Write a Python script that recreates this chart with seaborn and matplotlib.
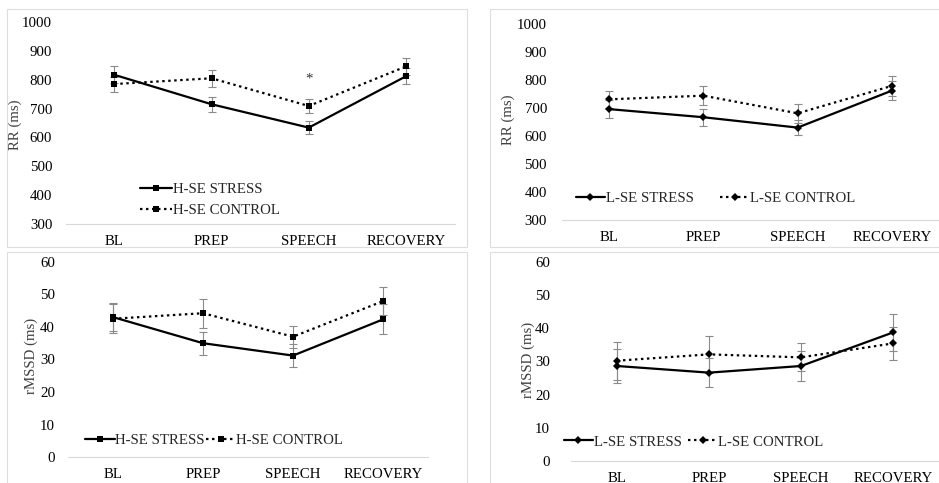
import matplotlib
matplotlib.use("Agg")
import matplotlib.pyplot as plt
from matplotlib.patches import Rectangle
import numpy as np
import pandas as pd
import seaborn as sns

# ---- data -------------------------------------------------------------
stages = ["BL", "PREP", "SPEECH", "RECOVERY"]

rr_hse_stress = [817, 715, 634, 812]
rr_hse_stress_se = [29, 26, 23, 28]
rr_hse_control = [785, 805, 709, 846]
rr_hse_control_se = [26, 29, 23, 28]

rr_lse_stress = [696, 667, 630, 762]
rr_lse_stress_se = [33, 31, 26, 33]
rr_lse_control = [731, 744, 681, 779]
rr_lse_control_se = [31, 35, 33, 35]

rmssd_hse_stress = [43.0, 35.0, 31.2, 42.3]
rmssd_hse_stress_se = [4.3, 3.5, 3.5, 4.6]
rmssd_hse_control = [42.5, 44.2, 37.0, 47.9]
rmssd_hse_control_se = [4.5, 4.4, 3.4, 4.3]

rmssd_lse_stress = [28.6, 26.6, 28.6, 38.7]
rmssd_lse_stress_se = [5.0, 4.4, 4.4, 5.6]
rmssd_lse_control = [30.2, 32.1, 31.2, 35.4]
rmssd_lse_control_se = [5.7, 5.5, 4.2, 5.0]

sig_stage = "SPEECH"
sig_value = 801

# ---- style ------------------------------------------------------------
sns.set_theme(style="white")
plt.rcParams["font.family"] = ["Liberation Serif", "DejaVu Serif"]
FS = 10.7
PX = 0.72  # points per pixel at 100 dpi

W, H = 939, 483
fig = plt.figure(figsize=(W / 100, H / 100), dpi=100)


def box(l, t, r, b):
    return [l / W, 1 - b / H, (r - l) / W, (b - t) / H]


def fig_xy(x, y):
    return (x / W, 1 - y / H)


# panel frames
for (l, t, r, b) in [(7, 9, 467, 247), (490, 9, 945, 247),
                     (7, 252, 467, 490), (490, 252, 945, 490)]:
    fig.add_artist(Rectangle(fig_xy(l, b), (r - l) / W, (b - t) / H,
                             transform=fig.transFigure, fill=False,
                             ec="#dedede", lw=0.8))


def panel(rect, names, series, errs, marker, msize, ylim, yticks, ylabel,
          ylab_xy, ypad_px, leg):
    ax = fig.add_axes(box(*rect))
    df = pd.concat([pd.DataFrame({"stage": stages, "value": v, "group": n})
                    for n, v in zip(names, series)])
    sns.pointplot(data=df, x="stage", y="value", hue="group", order=stages,
                  hue_order=names, palette=["black", "black"],
                  markers=[marker, marker], linestyles=["-", ":"],
                  errorbar=None, legend=False, ax=ax,
                  markersize=msize, linewidth=1.6)
    lines = ax.lines[:2]
    lines[1].set_dashes([1.1, 1.6])
    for ln in lines:
        ln.set_zorder(3)
        ln.set_markeredgewidth(0)
    xpos = np.arange(len(stages))
    for v, e in zip(series, errs):
        ax.errorbar(xpos, v, yerr=e, fmt="none", ecolor="#8a8a8a",
                    elinewidth=0.8, capsize=2.6, capthick=0.8, zorder=2)
    ax.set_xlim(-0.5, len(stages) - 0.5)
    ax.set_ylim(*ylim)
    ax.set_yticks(yticks)
    ax.set_xlabel("")
    for s in ["left", "top", "right"]:
        ax.spines[s].set_visible(False)
    ax.spines["bottom"].set_color("#d9d9d9")
    ax.spines["bottom"].set_linewidth(0.8)
    ax.tick_params(axis="both", length=0, labelsize=FS, colors="black")
    ax.tick_params(axis="y", pad=ypad_px * PX)
    ax.tick_params(axis="x", pad=8 * PX * 1.35)
    ax.set_ylabel(ylabel, fontsize=FS, color="#404040", va="center")
    lx, ly = ylab_xy
    l, t, r, b = rect
    ax.yaxis.set_label_coords((lx - l) / (r - l), (b - ly) / (b - t))
    ax.patch.set_alpha(0)

    (hx, hy), ncol, hlen, colsp, lsp = leg
    fig.legend(lines, names, loc="center left", bbox_to_anchor=fig_xy(hx, hy),
               bbox_transform=fig.transFigure, ncol=ncol, frameon=False,
               fontsize=FS, handlelength=hlen, handletextpad=0.05,
               columnspacing=colsp, labelspacing=lsp, borderpad=0,
               borderaxespad=0, numpoints=1)
    return ax


ax1 = panel((65.7, 22, 454.6, 224), ["H-SE STRESS", "H-SE CONTROL"],
            [rr_hse_stress, rr_hse_control], [rr_hse_stress_se, rr_hse_control_se],
            "s", 4.8, (300, 1000), range(300, 1001, 100), "RR (ms)", (15, 125), 13.5,
            ((140, 200), 1, 2.15, 0.0, 0.5))
ax1.text(stages.index(sig_stage), sig_value, "*", ha="center", va="center",
         fontsize=FS, color="#333333")

panel((562, 24, 939, 220), ["L-SE STRESS", "L-SE CONTROL"],
      [rr_lse_stress, rr_lse_control], [rr_lse_stress_se, rr_lse_control_se],
      "D", 3.8, (300, 1000), range(300, 1001, 100), "RR (ms)", (508, 120), 15,
      ((576, 198), 2, 1.95, 1.8, 0.45))

panel((68, 261.7, 428, 457.3), ["H-SE STRESS", "H-SE CONTROL"],
      [rmssd_hse_stress, rmssd_hse_control],
      [rmssd_hse_stress_se, rmssd_hse_control_se],
      "s", 4.8, (0, 60), range(0, 61, 10), "rMSSD (ms)", (31, 356), 13,
      ((85, 440), 2, 2.0, 0.05, 0.45))

panel((571, 261.7, 939, 461), ["L-SE STRESS", "L-SE CONTROL"],
      [rmssd_lse_stress, rmssd_lse_control],
      [rmssd_lse_stress_se, rmssd_lse_control_se],
      "D", 3.8, (0, 60), range(0, 61, 10), "rMSSD (ms)", (528, 360), 21,
      ((564, 442), 2, 1.95, 0.45, 0.45))

fig.savefig("out.png", dpi=100)
